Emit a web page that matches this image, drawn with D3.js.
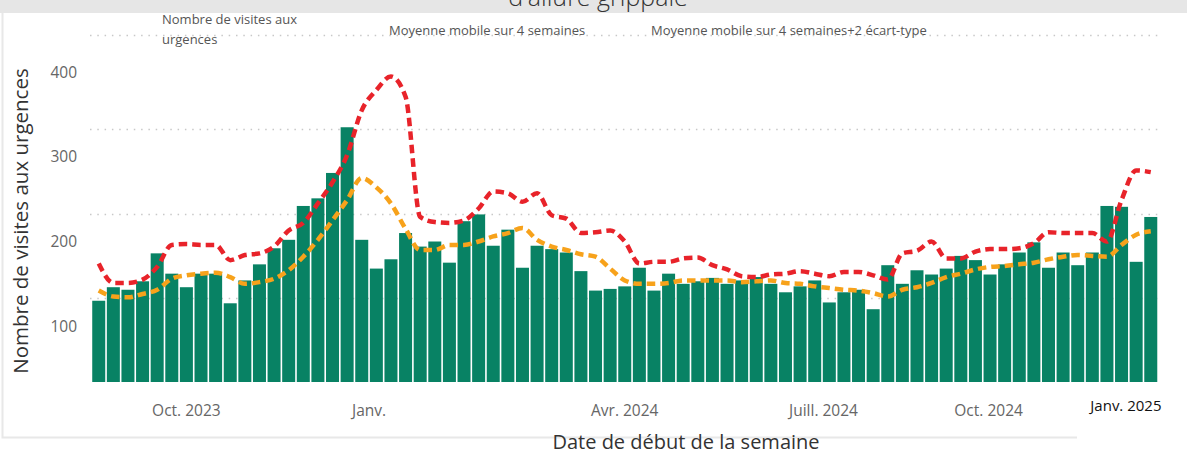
<!DOCTYPE html>
<html>
<head>
<meta charset="utf-8">
<script src="https://cdn.jsdelivr.net/npm/d3@7"></script>
<style>
  body { margin: 0; background: #fff; }
  svg { display: block; font-family: "Open Sans", "Noto Sans", sans-serif; }
</style>
</head>
<body>
<div id="chart"></div>
<script>
// weekly emergency visits, bars
var visits = [130, 146, 143, 153, 186, 162, 146, 162, 162, 127,
   154, 173, 192, 202, 242, 251, 281, 335, 202, 168,
   179, 210, 194, 200, 175, 224, 232, 195, 214, 169,
   195, 191, 187, 165, 142, 144, 147, 169, 142, 162,
   150, 153, 157, 150, 154, 158, 150, 140, 147, 154,
   128, 140, 143, 120, 172, 150, 166, 161, 168, 183,
   178, 161, 173, 187, 199, 169, 187, 172, 187, 242,
   241, 176, 229];

// 4-week moving average
var movingAvg = [142, 135, 134, 138, 143, 156, 160, 162, 163, 158,
   150, 152, 156, 166, 182, 202, 225, 249, 275, 264,
   245, 215, 190, 190, 196, 196, 200, 206, 210, 216,
   202, 194, 190, 185, 182, 168, 154, 150, 150, 151,
   154, 154, 154, 154, 152, 153, 154, 151, 150, 147,
   145, 143, 142, 139, 135, 143, 146, 151, 158, 162,
   167, 170, 171, 173, 175, 179, 182, 184, 183, 182,
   196, 208, 212];

// 4-week moving average + 2 standard deviations
var movingAvg2sd = [174, 151, 151, 155, 170, 196, 197, 196, 196, 178,
   184, 186, 194, 213, 222, 245, 270, 302, 355, 379,
   395, 371, 229, 223, 222, 225, 239, 259, 257, 247,
   257, 231, 227, 210, 211, 213, 200, 174, 176, 176,
   180, 181, 172, 167, 159, 158, 161, 162, 165, 162,
   159, 164, 164, 160, 155, 186, 189, 200, 180, 180,
   188, 191, 191, 192, 198, 211, 210, 210, 210, 200,
   249, 284, 282];

var weeks = d3.timeMonday.range(new Date(2023, 7, 21), new Date(2025, 0, 13));

var yTicks = [100, 200, 300, 400];
var gridValues = [133, 233, 333];

var tickLabels = ["Oct. 2023", "Janv.", "Avr. 2024", "Juill. 2024", "Oct. 2024", "Janv. 2025"];
var tickIndex = [6, 18.5, 36, 49.6, 60.9, 70.3];

var legendLabels = ["Nombre de visites aux urgences", "Moyenne mobile sur 4 semaines", "Moyenne mobile sur 4 semaines+2 écart-type"];

var width = 1187, height = 456;

var svg = d3.select("#chart")
   .append("svg")
   .attr("width", width)
   .attr("height", height);

// header band + cut title
svg.append("rect")
   .attr("x", 0).attr("y", 0)
   .attr("width", width).attr("height", 13)
   .attr("fill", "#e6e6e6");
svg.append("text")
   .attr("x", 598).attr("y", 6)
   .attr("text-anchor", "middle")
   .attr("font-size", 25)
   .attr("font-weight", 300)
   .attr("fill", "#333")
   .text("d'allure grippale");

// frame
svg.append("path")
   .attr("d", "M2.5,13 V437.5 H1077")
   .attr("fill", "none")
   .attr("stroke", "#e8e8e8")
   .attr("stroke-width", 2);

var x = d3.scaleBand()
   .domain(weeks)
   .range([91.5, 1158])
   .paddingInner(0.11)
   .paddingOuter(0.05);

var y = d3.scaleLinear()
   .domain([34, 444])
   .range([382, 35]);

function xCenter(i) {
   return x(weeks[0]) + i * x.step() + x.bandwidth() / 2;
}

// gridlines
svg.append("g").selectAll("line")
   .data(gridValues.concat([444]))
   .enter().append("line")
   .attr("x1", 90).attr("x2", 1158)
   .attr("y1", function(d) {return Math.round(y(d)) + 0.5})
   .attr("y2", function(d) {return Math.round(y(d)) + 0.5})
   .attr("stroke", "#c8c8c8")
   .attr("stroke-width", 1.5)
   .attr("stroke-dasharray", "1.5,5.8");

// y axis labels
var yAxis = svg.append("g")
   .attr("transform", "translate(80,0)")
   .call(d3.axisLeft(y).tickValues(yTicks).tickSize(0).tickPadding(3));
yAxis.select(".domain").remove();
yAxis.selectAll("text")
   .attr("font-size", 15.5)
   .attr("font-family", "Open Sans, sans-serif")
   .attr("fill", "#666");

// bars
svg.append("g").selectAll("rect")
   .data(visits)
   .enter().append("rect")
   .attr("x", function(d, i) {return x(weeks[i])})
   .attr("y", function(d) {return y(d)})
   .attr("width", x.bandwidth())
   .attr("height", function(d) {return y(34) - y(d)})
   .attr("fill", "#088264");

// lines
var line = d3.line()
   .x(function(d, i) {return xCenter(i)})
   .y(function(d) {return y(d)})
   .curve(d3.curveMonotoneX);

svg.append("path")
   .datum(movingAvg)
   .attr("d", line)
   .attr("fill", "none")
   .attr("stroke", "#f7a21b")
   .attr("stroke-width", 4.5)
   .attr("stroke-dasharray", "8.5,5");

svg.append("path")
   .datum(movingAvg2sd)
   .attr("d", line)
   .attr("fill", "none")
   .attr("stroke", "#e8232a")
   .attr("stroke-width", 4.5)
   .attr("stroke-dasharray", "8.5,5");

// x labels
svg.append("g").selectAll("text")
   .data(tickLabels)
   .enter().append("text")
   .attr("x", function(d, i) {return xCenter(tickIndex[i])})
   .attr("y", function(d, i) {return i == tickLabels.length - 1 ? 411 : 416})
   .attr("text-anchor", "middle")
   .attr("font-size", function(d, i) {return i == tickLabels.length - 1 ? 15 : 15.5})
   .attr("fill", function(d, i) {return i == tickLabels.length - 1 ? "#111" : "#666"})
   .text(function(d) {return d});

// axis titles
svg.append("text")
   .attr("x", 686).attr("y", 449)
   .attr("text-anchor", "middle")
   .attr("font-size", 20)
   .attr("fill", "#333")
   .text("Date de début de la semaine");

svg.append("text")
   .attr("transform", "translate(28,221) rotate(-90)")
   .attr("text-anchor", "middle")
   .attr("font-size", 20.5)
   .attr("fill", "#333")
   .text("Nombre de visites aux urgences");

// legend (text only)
var legend = svg.append("g")
   .attr("font-size", 13)
   .attr("fill", "#555");
legend.append("text").attr("x", 162).attr("y", 24).text("Nombre de visites aux");
legend.append("text").attr("x", 162).attr("y", 44).text("urgences");
legend.append("text").attr("x", 389).attr("y", 35).text(legendLabels[1]);
legend.append("text").attr("x", 651).attr("y", 35).text(legendLabels[2]);
</script>
</body>
</html>
